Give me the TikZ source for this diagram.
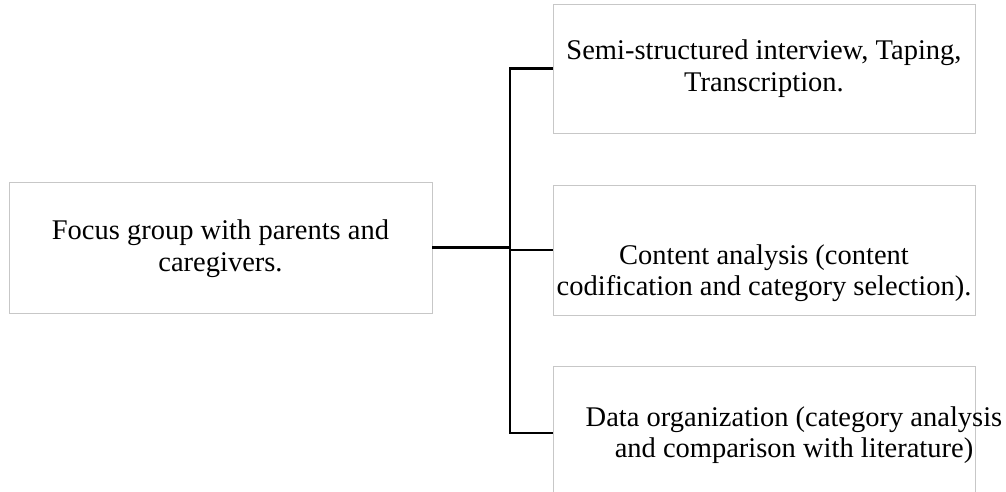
\documentclass[tikz,border=0pt]{standalone}
\usepackage{fontspec}
\setmainfont{Liberation Serif}
\begin{document}
\begin{tikzpicture}[x=1pt,y=-1pt,
                box/.style={rectangle,draw=black!22,line width=0.8pt,minimum width=422pt,minimum height=130pt,inner sep=0pt},
                txt/.style={align=center,inner sep=0pt,font=\fontsize{28.5}{31.5}\selectfont},
                link/.style={black,line width=2.6pt}]

    \useasboundingbox (0,0) rectangle (1006,492);

    % boxes
    \node[box,minimum width=423pt,minimum height=131pt] (focus) at (220.5,247.5) {};
    \node[box,minimum height=129pt] (interview) at (764,68.5) {};
    \node[box] (content) at (764,250) {};
    \node[box,minimum height=134pt] (organize) at (764,433) {};

    % texts
    \node[txt] (tfocus) at ([yshift=-1pt]focus.center) {Focus group with parents and\\caregivers.};
    \node[txt] (tinterview) at (interview.center) {Semi-structured interview, Taping,\\Transcription.};
    \node[txt] (tcontent) at ([yshift=-23pt]content.center) {Content analysis (content\\codification and category selection).};
    \node[txt] (torganize) at ([xshift=30pt,yshift=-2pt]organize.center) {Data organization (category analysis\\and comparison with literature)};

    % connectors
    \coordinate (trunk) at (510,247.5);
    \draw[link] (focus.east) -- (trunk);
    \draw[link] (interview.west) -| (trunk) |- (organize.west);
    \draw[link] (trunk |- content.west) -- (content.west);

\end{tikzpicture}
\end{document}
